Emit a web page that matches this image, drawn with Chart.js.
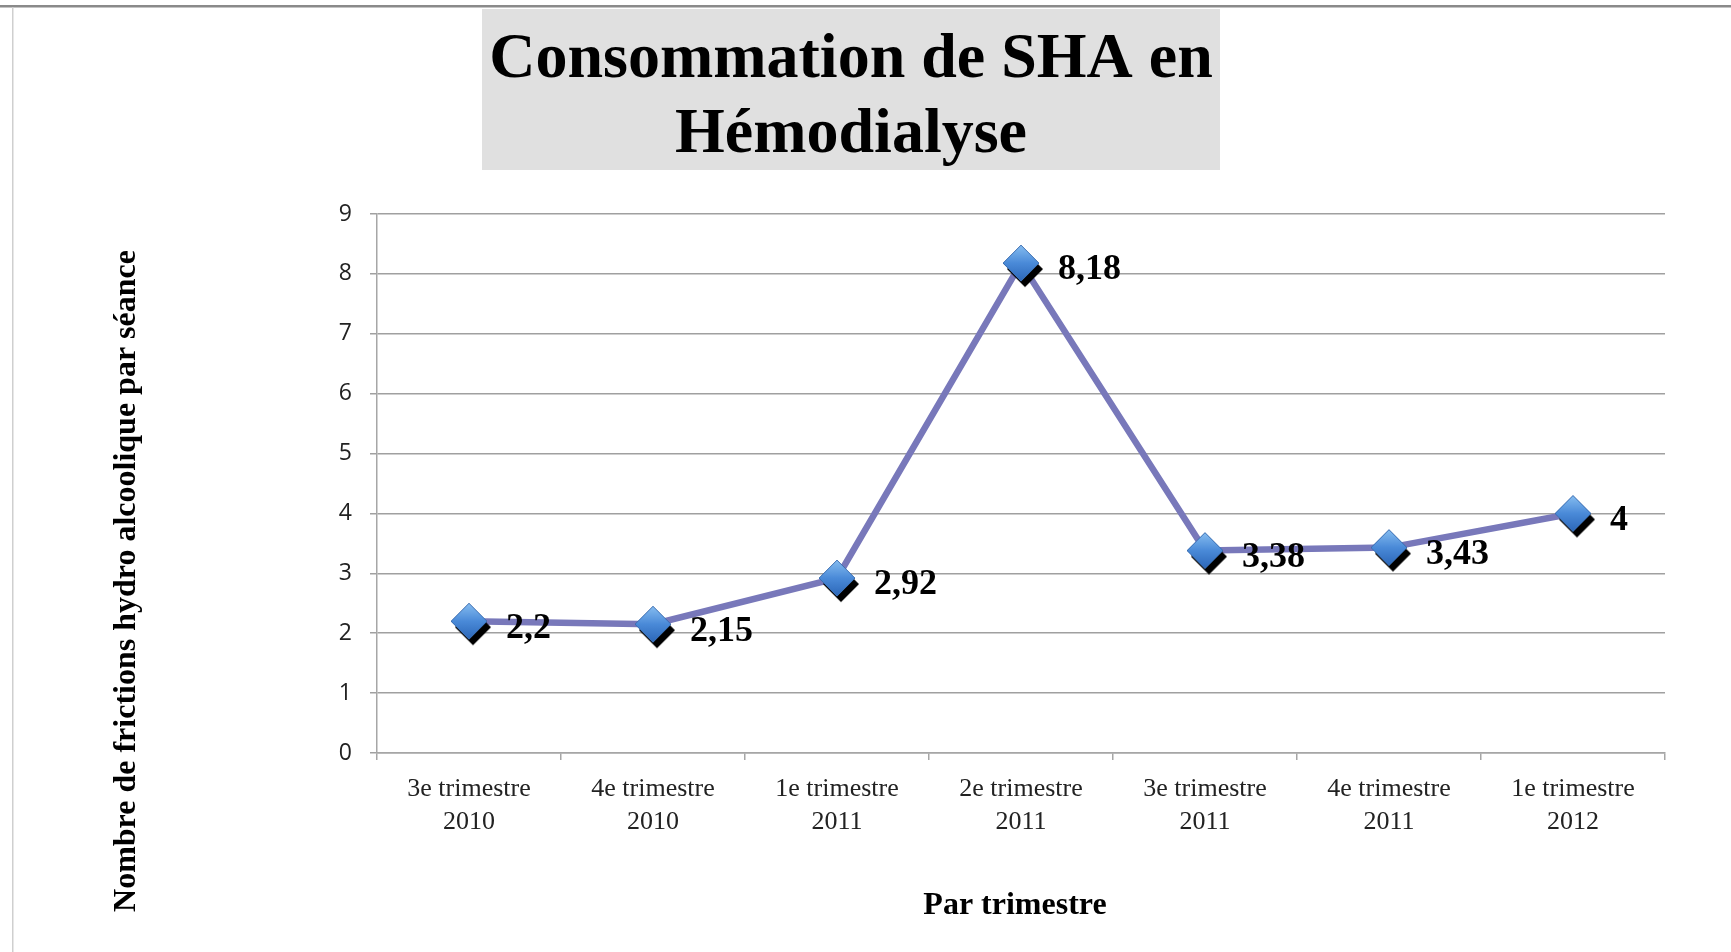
<!DOCTYPE html>
<html>
<head>
<meta charset="utf-8">
<script src="https://cdn.jsdelivr.net/npm/chart.js@4.4.0/dist/chart.umd.min.js"></script>
<style>
html,body{margin:0;padding:0;background:#fff;overflow:hidden;}
#wrap{position:relative;width:1731px;height:952px;}
</style>
</head>
<body>
<div id="wrap"><canvas id="c" width="1731" height="952"></canvas></div>
<script>
// ---- data ----
const categories = [
  ["3e trimestre", "2010"],
  ["4e trimestre", "2010"],
  ["1e trimestre", "2011"],
  ["2e trimestre", "2011"],
  ["3e trimestre", "2011"],
  ["4e trimestre", "2011"],
  ["1e trimestre", "2012"]
];
const values = [2.2, 2.15, 2.92, 8.18, 3.38, 3.43, 4];
const yTicks = [0, 1, 2, 3, 4, 5, 6, 7, 8, 9];
const titleLines = ["Consommation de SHA en", "Hémodialyse"];
const yTitle = "Nombre de frictions hydro alcoolique par séance";
const xTitle = "Par trimestre";

// ---- styles ----
const SERIF = '"Liberation Serif","Times New Roman",serif';
const SANS = '"Open Sans","Liberation Sans",sans-serif';

function makeMarker() {
  const s = 54, c = document.createElement('canvas');
  c.width = s; c.height = s;
  const g = c.getContext('2d');
  const r = 18, cx = s / 2, cy = s / 2;
  function diamond(ox, oy) {
    g.beginPath();
    g.moveTo(cx + ox, cy + oy - r);
    g.lineTo(cx + ox + r, cy + oy);
    g.lineTo(cx + ox, cy + oy + r);
    g.lineTo(cx + ox - r, cy + oy);
    g.closePath();
  }
  diamond(4, 6);
  g.fillStyle = '#000';
  g.fill();
  diamond(0, 0);
  const gr = g.createLinearGradient(0, cy - r, 0, cy + r);
  gr.addColorStop(0, '#86bdf0');
  gr.addColorStop(0.5, '#4a8ad8');
  gr.addColorStop(1, '#2c67b8');
  g.fillStyle = gr;
  g.fill();
  g.strokeStyle = '#3a6db0';
  g.lineWidth = 1;
  g.stroke();
  return c;
}
const marker = makeMarker();

const decorPlugin = {
  id: 'decor',
  beforeDraw(chart) {
    const ctx = chart.ctx;
    ctx.save();
    ctx.fillStyle = '#ffffff';
    ctx.fillRect(0, 0, chart.width, chart.height);
    ctx.fillStyle = '#8a8a8a';
    ctx.fillRect(0, 5, chart.width, 2.5);
    ctx.fillStyle = '#cfcfcf';
    ctx.fillRect(12, 7, 1.5, chart.height - 7);
    ctx.fillStyle = '#e0e0e0';
    ctx.fillRect(482, 9, 738, 161);
    ctx.restore();
  },
  afterDraw(chart) {
    const ctx = chart.ctx;
    ctx.save();
    ctx.fillStyle = '#000';
    ctx.textAlign = 'center';
    ctx.textBaseline = 'middle';
    ctx.font = 'bold 32px ' + SERIF;
    ctx.fillText(xTitle, 1015, 906);
    ctx.translate(127, 581);
    ctx.rotate(-Math.PI / 2);
    ctx.fillText(yTitle, 0, 0);
    ctx.restore();
  }
};

const labelPlugin = {
  id: 'valueLabels',
  afterDatasetsDraw(chart) {
    const ctx = chart.ctx;
    const meta = chart.getDatasetMeta(0);
    ctx.save();
    ctx.font = 'bold 36px ' + SERIF;
    ctx.fillStyle = '#000';
    ctx.textAlign = 'left';
    ctx.textBaseline = 'middle';
    meta.data.forEach((pt, i) => {
      ctx.fillText(String(values[i]).replace('.', ','), pt.x + 37, pt.y + 7);
    });
    ctx.restore();
  }
};

new Chart(document.getElementById('c'), {
  type: 'line',
  data: {
    labels: categories,
    datasets: [{
      data: values,
      borderColor: '#7878ba',
      borderWidth: 6.5,
      tension: 0,
      fill: false,
      pointStyle: marker,
      pointRadius: 18,
      pointHoverRadius: 18,
      clip: false
    }]
  },
  options: {
    responsive: false,
    animation: false,
    devicePixelRatio: 1,
    layout: { padding: { left: 37, right: 66, top: 9, bottom: 0 } },
    plugins: {
      legend: { display: false },
      tooltip: { enabled: false },
      title: {
        display: true,
        text: titleLines,
        color: '#000',
        font: { family: SERIF, size: 64, weight: 'bold', lineHeight: 75 / 64 },
        padding: { top: 14, bottom: 41 }
      }
    },
    scales: {
      x: {
        type: 'category',
        offset: true,
        grid: { offset: true, drawOnChartArea: false, drawTicks: true, tickLength: 7, color: '#a6a6a6', lineWidth: 1.5 },
        border: { color: '#a6a6a6', width: 1.5 },
        ticks: { color: '#222', font: { family: SERIF, size: 26, lineHeight: 33 / 26 }, padding: 13, maxRotation: 0, autoSkip: false },
        afterFit(s) { s.height = 199; }
      },
      y: {
        min: 0, max: 9,
        afterBuildTicks(s) { s.ticks = yTicks.map(v => ({ value: v })); },
        ticks: { color: '#222', font: { family: SANS, size: 23 }, padding: 18 },
        grid: { color: '#a0a0a0', lineWidth: 1.5, tickLength: 7 },
        border: { color: '#a6a6a6', width: 1.5 },
        afterFit(s) { s.width = 340; }
      }
    }
  },
  plugins: [decorPlugin, labelPlugin]
});
</script>
</body>
</html>
